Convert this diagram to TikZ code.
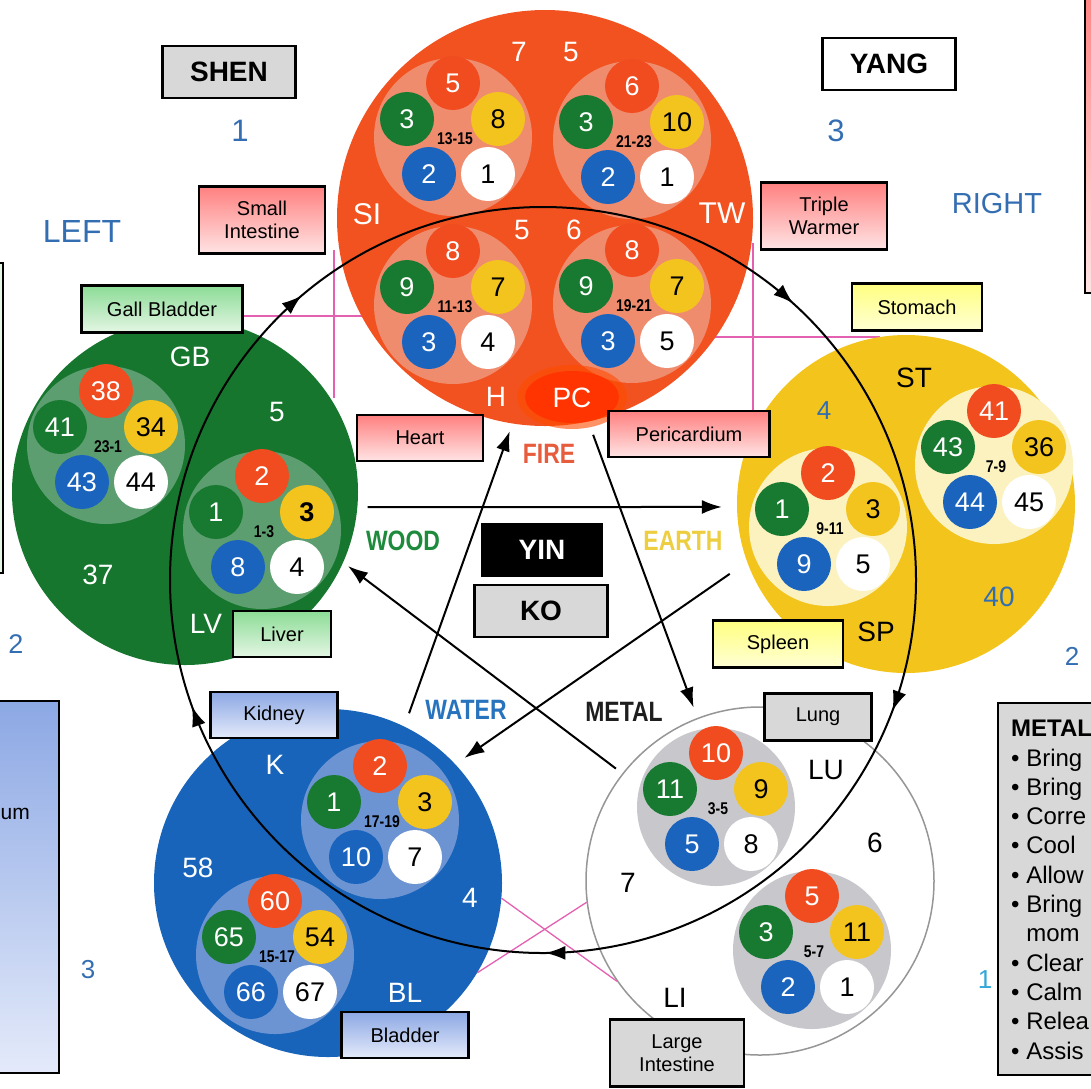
\documentclass[tikz,border=0pt]{standalone}
\usepackage{fontspec}
\setmainfont{Liberation Sans}
\newfontfamily\narrowsans[FakeStretch=0.82]{Liberation Sans}
\usetikzlibrary{arrows.meta,decorations.markings}

\definecolor{firered}{RGB}{242,82,32}
\definecolor{firegrp}{RGB}{240,140,110}
\definecolor{woodgreen}{RGB}{22,118,46}
\definecolor{woodgrp}{RGB}{92,158,112}
\definecolor{earthyel}{RGB}{242,196,28}
\definecolor{earthgrp}{RGB}{251,242,192}
\definecolor{waterblue}{RGB}{24,100,186}
\definecolor{watergrp}{RGB}{108,148,210}
\definecolor{metalgrp}{RGB}{200,200,204}
\definecolor{metalrim}{RGB}{150,150,150}
\definecolor{dotred}{RGB}{240,76,32}
\definecolor{dotgreen}{RGB}{24,122,48}
\definecolor{dotyel}{RGB}{243,196,30}
\definecolor{dotblue}{RGB}{26,100,190}
\definecolor{numblue}{RGB}{52,110,178}
\definecolor{pinkline}{RGB}{228,96,176}
\definecolor{pcred}{RGB}{255,52,0}
\definecolor{boxred}{RGB}{255,128,128}
\definecolor{boxredlight}{RGB}{255,228,228}
\definecolor{boxgreen}{RGB}{140,220,150}
\definecolor{boxgreenlight}{RGB}{228,246,228}
\definecolor{boxyel}{RGB}{255,255,128}
\definecolor{boxyellight}{RGB}{255,255,212}
\definecolor{boxblue}{RGB}{140,168,228}
\definecolor{boxbluelight}{RGB}{228,234,250}
\definecolor{boxgrey}{RGB}{216,216,216}

\tikzset{
  element/.style={circle, inner sep=0, minimum size=#1},
  pointdot/.style={circle, inner sep=0, minimum size=54pt, font=\fontsize{27}{27}\selectfont},
  grplabel/.style={inner sep=0, font=\narrowsans\bfseries\fontsize{17}{17}\selectfont},
  tag/.style={inner sep=0, font=\fontsize{28}{28}\selectfont},
  elem/.style={inner sep=0, font=\narrowsans\bfseries\fontsize{28}{28}\selectfont},
  sidenum/.style={inner sep=0, text=numblue, font=\fontsize{31}{31}\selectfont},
  web/.style={draw=pinkline, line width=1.3pt},
  ko/.style={line width=2pt, -{Latex[length=20pt,width=14pt]}},
  shen/.style={line width=2pt, postaction={decorate}, decoration={markings,
    mark=at position 0.057 with {\arrow{Latex[length=20pt,width=14pt]}},
    mark=at position 0.249 with {\arrow{Latex[length=20pt,width=14pt]}},
    mark=at position 0.445 with {\arrow{Latex[length=20pt,width=14pt]}},
    mark=at position 0.638 with {\arrow{Latex[length=20pt,width=14pt]}},
    mark=at position 0.867 with {\arrow{Latex[length=20pt,width=14pt]}}}},
  organ/.style={draw=black, line width=2.4pt, inner sep=0, align=center,
    font=\fontsize{20}{23}\selectfont},
  firebox/.style={organ, top color=boxred, bottom color=boxredlight},
  woodbox/.style={organ, top color=boxgreen, bottom color=boxgreenlight},
  earthbox/.style={organ, top color=boxyel, bottom color=boxyellight},
  waterbox/.style={organ, top color=boxblue, bottom color=boxbluelight},
  metalbox/.style={organ, fill=boxgrey},
  titlebox/.style={draw=black, line width=2.4pt, inner sep=0,
    minimum width=133pt, minimum height=52pt, font=\bfseries\fontsize{28}{28}\selectfont}
}

% five points of one meridian group: red, green, yellow, blue, white
\newcommand\acugroup[8]{%
  \fill[#2] (#1) circle[radius=79];
  \node[pointdot, fill=dotred, text=white] (#1r) at ([shift={(0,-54)}]#1) {#3};
  \node[pointdot, fill=dotgreen, text=white] (#1g) at ([shift={(-46,-18)}]#1) {#4};
  \node[pointdot, fill=dotyel] (#1y) at ([shift={(45,-18)}]#1) {#5};
  \node[pointdot, fill=dotblue, text=white] (#1b) at ([shift={(-24,37)}]#1) {#6};
  \node[pointdot, fill=white] (#1w) at ([shift={(35,37)}]#1) {#7};
  \node[grplabel] (#1n) at ([shift={(2,2)}]#1) {#8};
}

\begin{document}
\begin{tikzpicture}[x=1pt, y=-1pt]
\useasboundingbox (0,0) rectangle (1091,1088);
\clip (0,0) rectangle (1091,1088);

% panels running off the page
\draw[line width=2.2pt, fill=boxgreenlight] (-20,263) rectangle (3,573);
\draw[line width=2.4pt, top color=boxred, bottom color=boxredlight] (1085,-20) rectangle (1120,293);
\draw[line width=2.4pt, top color=boxblue, bottom color=boxbluelight] (-20,701) rectangle (59,1073);
\draw[line width=2.4pt, fill=boxgrey] (998,703) rectangle (1120,1075);
\node[anchor=east, inner sep=0, font=\fontsize{21}{21}\selectfont] (umtext) at (30,814) {um};
\node[anchor=north west, align=left, inner sep=0, font=\fontsize{24}{29.3}\selectfont]
  (metalnotes) at (1011,720)
  {\textbf{METAL}\\ \textbullet\ Bring\\ \textbullet\ Bring\\ \textbullet\ Corre\\
   \textbullet\ Cool\\ \textbullet\ Allow\\ \textbullet\ Bring\\ \phantom{\textbullet\ }mom\\
   \textbullet\ Clear\\ \textbullet\ Calm\\ \textbullet\ Relea\\ \textbullet\ Assis};

% pink links behind the circles
\draw[web] (243,316) -- (420,316);
\draw[web] (334,250) -- (334,398);
\draw[web] (680,337) -- (880,337);
\draw[web] (753,243) -- (753,411);

% the five elements
\node[element=416pt, fill=firered] (fire) at (545,218) {};
\node[element=346pt, fill=woodgreen] (wood) at (185,492) {};
\node[element=338pt, fill=earthyel] (earth) at (906,504) {};
\node[element=348pt, fill=waterblue] (water) at (328,883) {};
\node[element=348pt, fill=white, draw=metalrim, line width=1.5pt] (metal) at (760,881) {};

\draw[web] (water.-5) -- (metal.215);
\draw[web] (water.-31) -- (metal.187);

\coordinate (grpSI) at (453,137);
\coordinate (grpTW) at (632,140);
\coordinate (grpH) at (453,305);
\coordinate (grpPC) at (632,304);
\coordinate (grpGB) at (106,445);
\coordinate (grpLV) at (262,530);
\coordinate (grpST) at (994,465);
\coordinate (grpSP) at (828,527);
\coordinate (grpK) at (380,820);
\coordinate (grpBL) at (275,955);
\coordinate (grpLU) at (716,807);
\coordinate (grpLI) at (812,950);

\acugroup{grpSI}{firegrp}{5}{3}{8}{2}{1}{13-15}
\acugroup{grpTW}{firegrp}{6}{3}{10}{2}{1}{21-23}
\acugroup{grpH}{firegrp}{8}{9}{7}{3}{4}{11-13}
\acugroup{grpPC}{firegrp}{8}{9}{7}{3}{5}{19-21}
\acugroup{grpGB}{woodgrp}{38}{41}{34}{43}{44}{23-1}
\acugroup{grpLV}{woodgrp}{2}{1}{\bfseries 3}{8}{4}{1-3}
\acugroup{grpST}{earthgrp}{41}{43}{36}{44}{45}{7-9}
\acugroup{grpSP}{earthgrp}{2}{1}{3}{9}{5}{9-11}
\acugroup{grpK}{watergrp}{2}{1}{3}{10}{7}{17-19}
\acugroup{grpBL}{watergrp}{60}{65}{54}{66}{67}{15-17}
\acugroup{grpLU}{metalgrp}{10}{11}{9}{5}{8}{3-5}
\acugroup{grpLI}{metalgrp}{5}{3}{11}{2}{1}{5-7}

% pericardium spot
\fill[pcred!70!orange, opacity=0.6] (572,397) ellipse[x radius=55, y radius=32];
\fill[pcred] (572,397) ellipse[x radius=47, y radius=26];

% names and numbers inside the circles
\node[tag, text=white] (fireA) at (519,52) {7};
\node[tag, text=white] (fireB) at (571,52) {5};
\node[tag, text=white] (fireC) at (522,230) {5};
\node[tag, text=white] (fireD) at (574,230) {6};
\node[tag, text=white, font=\fontsize{30}{30}\selectfont] (siname) at (367,214) {SI};
\node[tag, text=white, font=\fontsize{30}{30}\selectfont] (twname) at (722,213) {TW};
\node[tag, text=white] (hname) at (496,397) {H};
\node[tag, text=white] (pcname) at (572,398) {PC};
\node[tag, text=white] (gbname) at (190,357) {GB};
\node[tag, text=white] (woodA) at (277,412) {5};
\node[tag, text=white] (woodB) at (98,575) {37};
\node[tag, text=white] (lvname) at (206,624) {LV};
\node[tag] (stname) at (914,378) {ST};
\node[tag, text=numblue, font=\fontsize{26}{26}\selectfont] (earthA) at (824,411) {4};
\node[tag, text=numblue] (earthB) at (999,597) {40};
\node[tag] (spname) at (876,632) {SP};
\node[tag, text=white] (kname) at (275,765) {K};
\node[tag, text=white] (waterA) at (198,868) {58};
\node[tag, text=white] (waterB) at (470,898) {4};
\node[tag, text=white] (blname) at (405,993) {BL};
\node[tag] (luname) at (826,770) {LU};
\node[tag] (metalA) at (875,843) {6};
\node[tag] (metalB) at (628,883) {7};
\node[tag] (liname) at (675,998) {LI};

% shen cycle and ko cycle
\coordinate (shen) at (543,580);
\draw[shen] (shen) circle[radius=373];
\draw[ko, shorten <=10pt, shorten >=15pt] (wood.-5) -- (earth.181);
\draw[ko, shorten <=14pt, shorten >=8pt] (water.64) -- (fire.261);
\draw[ko, shorten <=14pt, shorten >=11pt] (fire.-78) -- (metal.111);
\draw[ko, shorten <=21pt, shorten >=11pt] (earth.200) -- (water.43);
\draw[ko, shorten <=8pt, shorten >=6pt] (metal.142) -- (wood.-24);

\node[elem, text={rgb,255:red,232;green,92;blue,62}] (firelbl) at (549,454) {FIRE};
\node[elem, text={rgb,255:red,30;green,138;blue,60}] (woodlbl) at (403,541) {WOOD};
\node[elem, text={rgb,255:red,236;green,206;blue,64}] (earthlbl) at (683,541) {EARTH};
\node[elem, text={rgb,255:red,40;green,115;blue,190}] (waterlbl) at (466,710) {WATER};
\node[elem, text={rgb,255:red,30;green,30;blue,30}] (metallbl) at (624,712) {METAL};

% organ boxes
\node[firebox, minimum width=126pt, minimum height=67pt] (sibox) at (262,220) {Small\\Intestine};
\node[firebox, minimum width=126pt, minimum height=67pt] (twbox) at (824,216) {Triple\\Warmer};
\node[firebox, minimum width=126pt, minimum height=46pt] (hbox) at (420,438) {Heart};
\node[firebox, minimum width=161pt, minimum height=46pt] (pcbox) at (689,434) {Pericardium};
\node[woodbox, minimum width=161pt, minimum height=47pt] (gbbox) at (162,309) {Gall Bladder};
\node[woodbox, minimum width=98pt, minimum height=46pt] (lvbox) at (282,634) {Liver};
\node[earthbox, minimum width=130pt, minimum height=47pt] (stbox) at (917,307) {Stomach};
\node[earthbox, minimum width=130pt, minimum height=47pt] (spbox) at (778,644) {Spleen};
\node[waterbox, minimum width=127pt, minimum height=46pt] (kbox) at (274,715) {Kidney};
\node[waterbox, minimum width=127pt, minimum height=46pt] (blbox) at (405,1035) {Bladder};
\node[metalbox, minimum width=107pt, minimum height=47pt] (lubox) at (818,717) {Lung};
\node[metalbox, minimum width=134pt, minimum height=67pt] (libox) at (677,1053) {Large\\Intestine};

\node[titlebox, fill=boxgrey] (shenbox) at (229,72) {SHEN};
\node[titlebox, fill=white] (yangbox) at (889,64) {YANG};
\node[titlebox, fill=black, text=white, minimum width=119pt] (yinbox) at (542,550) {YIN};
\node[titlebox, fill=boxgrey] (kobox) at (541,611) {KO};

% side markings
\node[sidenum] (leftA) at (240,131) {1};
\node[sidenum] (rightA) at (836,131) {3};
\node[sidenum, font=\fontsize{32}{32}\selectfont] (leftword) at (82,231) {LEFT};
\node[sidenum, font=\fontsize{29}{29}\selectfont] (rightword) at (997,204) {RIGHT};
\node[sidenum, font=\fontsize{27}{27}\selectfont] (leftB) at (16,644) {2};
\node[sidenum, font=\fontsize{26}{26}\selectfont] (rightB) at (1072,656) {2};
\node[sidenum, font=\fontsize{26}{26}\selectfont] (leftC) at (88,970) {3};
\node[sidenum, text={rgb,255:red,50;green,168;blue,216}, font=\fontsize{26}{26}\selectfont] (rightC) at (985,980) {1};
\end{tikzpicture}
\end{document}
